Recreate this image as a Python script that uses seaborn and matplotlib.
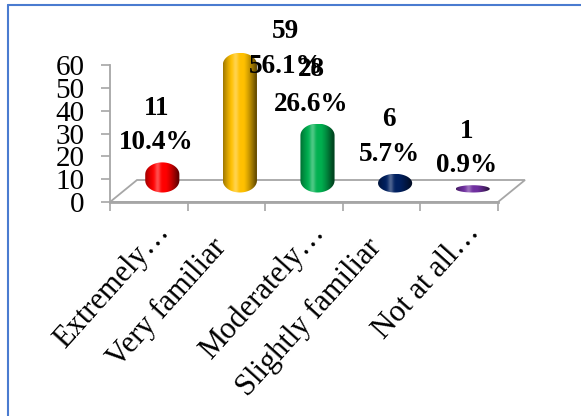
import numpy as np
import pandas as pd
import matplotlib
matplotlib.use("Agg")
import matplotlib.pyplot as plt
import matplotlib.colors as mcolors
import seaborn as sns
from matplotlib.path import Path
from matplotlib.patches import PathPatch, Polygon
from matplotlib.lines import Line2D
from matplotlib.transforms import ScaledTranslation

# ---------------- data ----------------
categories = ["Extremely…", "Very familiar", "Moderately…", "Slightly familiar", "Not at all…"]
counts = [11, 59, 28, 6, 1]
percents = [10.4, 56.1, 26.6, 5.7, 0.9]
bar_colors = ["#FF0000", "#FFC000", "#00B050", "#002060", "#7030A0"]
y_ticks = [0, 10, 20, 30, 40, 50, 60]

# ---------------- style ----------------
sns.set_theme(style="white")
plt.rcParams["font.family"] = ["Liberation Serif", "DejaVu Serif"]

W, H = 581, 416
fig = plt.figure(figsize=(W / 100, H / 100), dpi=100)
ax_l, ax_r, ax_b = 110, 498, 202          # pixel box of the plot area
px_y = (202 - 65) / (y_ticks[-1] - y_ticks[0])  # pixels per y unit
y_top = 68                                  # headroom above last tick for the tall cylinder
ax_t = ax_b - y_top * px_y
ax = fig.add_axes([ax_l / W, 1 - ax_b / H, (ax_r - ax_l) / W, (ax_b - ax_t) / H])
ax.set_facecolor("none")

df = pd.DataFrame({"category": categories, "count": counts})
sns.barplot(data=df, x="category", y="count", hue="category", palette=bar_colors,
            width=0.44, saturation=1, legend=False, ax=ax)

ax.set_xlim(-0.5, len(categories) - 0.5)
ax.set_ylim(y_ticks[0], y_top)
ax.set_xlabel("")
ax.set_ylabel("")

px_x = (ax_r - ax_l) / len(categories)    # pixels per x unit

# 3D floor
floor_dx, floor_dy = 27 / px_x, 22 / px_y
x_lo, x_hi = ax.get_xlim()
floor = Polygon([(x_lo, 0), (x_hi, 0), (x_hi + floor_dx, floor_dy), (x_lo + floor_dx, floor_dy)],
                closed=True, facecolor="white", edgecolor="#A6A6A6", lw=1.3,
                clip_on=False, zorder=1)
bars = list(ax.patches)
ax.add_patch(floor)


def shade(color, n=96):
    base = np.array(mcolors.to_rgb(color))
    t = np.linspace(0, 1, n)
    lum = np.clip(np.cos((t - 0.42) * np.pi * 0.95), 0, 1)
    k = np.clip(0.40 + 0.70 * lum, 0, 1)
    rgb = base[None, :] * k[:, None]
    spec = 0.30 * np.exp(-((t - 0.36) / 0.08) ** 2)
    rgb = rgb + (1 - rgb) * spec[:, None]
    return np.clip(np.tile(rgb[None, :, :], (4, 1, 1)), 0, 1)


# cylinders built on seaborn's bar geometry
bar_dx = 13.5 / px_x
bar_base = 12 / px_y
cap_e = 2.5 / px_y
ry_max = 12 / px_y
tops = []
for patch, color in zip(bars, bar_colors):
    x0 = patch.get_x() + bar_dx
    w = patch.get_width()
    h = patch.get_height()
    patch.set_visible(False)
    xc = x0 + w / 2
    yb = bar_base - cap_e
    yt = bar_base + h + cap_e
    rx = w / 2
    ry = min(ry_max, (yt - yb) / 2)
    th1 = np.linspace(0, np.pi, 40)
    th2 = np.linspace(np.pi, 2 * np.pi, 40)
    pts = np.vstack([
        np.column_stack([xc + rx * np.cos(th1), yt - ry + ry * np.sin(th1)]),
        np.column_stack([xc + rx * np.cos(th2), yb + ry + ry * np.sin(th2)]),
    ])
    cyl = PathPatch(Path(np.vstack([pts, pts[:1]]), closed=True), facecolor="none",
                    edgecolor="none", transform=ax.transData, zorder=3)
    ax.add_patch(cyl)
    im = ax.imshow(shade(color), extent=[x0, x0 + w, yb, yt], aspect="auto",
                   interpolation="bilinear", zorder=3)
    im.set_clip_path(cyl)
    tops.append((xc, yt))

ax.set_xlim(x_lo, x_hi)
ax.set_ylim(y_ticks[0], y_top)

# data labels (count / percent)
label_offsets_px = [(-6, 7), (46, -26), (-6, 7), (-6, 7), (-6, 7)]
for (xc, yt), c, p, (ox, oy) in zip(tops, counts, percents, label_offsets_px):
    ax.annotate(f"{c}\n{p:.1f}%", xy=(xc, yt), xytext=(ox * 0.72, oy * 0.72),
                textcoords="offset points", ha="center", va="bottom",
                fontsize=19.5, fontweight="bold", linespacing=1.5,
                annotation_clip=False, zorder=5, color="black")

# axes styling
for s in ["top", "right"]:
    ax.spines[s].set_visible(False)
ax.spines["left"].set_color("#A6A6A6")
ax.spines["left"].set_linewidth(1.3)
ax.spines["left"].set_bounds(y_ticks[0], y_ticks[-1])
ax.spines["bottom"].set_color("#A6A6A6")
ax.spines["bottom"].set_linewidth(2)
ax.spines["bottom"].set_zorder(2)

ax.set_yticks(y_ticks)
ax.set_yticklabels([str(v) for v in y_ticks])
ax.tick_params(axis="y", left=True, length=6.5, width=1.2, color="#A6A6A6",
               direction="out", pad=12, labelsize=21, labelcolor="black")

ax.set_xticks(range(len(categories)))
ax.set_xticks(np.arange(len(categories) + 1) - 0.5, minor=True)
ax.set_xticklabels(categories, rotation=48, ha="right", va="baseline",
                   rotation_mode="anchor", fontsize=22, color="black")
ax.tick_params(axis="x", which="major", bottom=True, length=0, pad=30)
ax.tick_params(axis="x", which="minor", bottom=True, length=6.5, width=1.2,
               color="#A6A6A6", direction="out")
for lab in ax.get_xticklabels():
    if lab.get_text().endswith("…"):
        off = ScaledTranslation(21 / 100, 11 / 100, fig.dpi_scale_trans)
    else:
        off = ScaledTranslation(1 / 100, -4 / 100, fig.dpi_scale_trans)
    lab.set_transform(lab.get_transform() + off)

# chart frame (top and left blue border)
fig.add_artist(Line2D([8 / W, 1], [1 - 5 / H, 1 - 5 / H], color="#4A7BD0", lw=1.5,
                      transform=fig.transFigure))
fig.add_artist(Line2D([8 / W, 8 / W], [0, 1 - 5 / H], color="#4A7BD0", lw=1.5,
                      transform=fig.transFigure))

fig.savefig("out.png", dpi=100, facecolor="white")
